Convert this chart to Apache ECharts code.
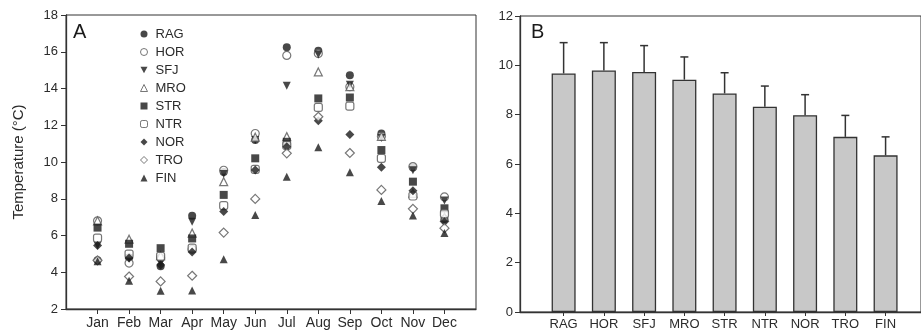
<!DOCTYPE html>
<html>
<head>
<meta charset="utf-8">
<script src="https://cdn.jsdelivr.net/npm/echarts@6/dist/echarts.min.js"></script>
<style>
  html, body { margin: 0; padding: 0; background: #fff; }
  #main { width: 921px; height: 333px; }
</style>
</head>
<body>
<div id="main"></div>
<script>
// months and stations
var months = ['Jan', 'Feb', 'Mar', 'Apr', 'May', 'Jun', 'Jul', 'Aug', 'Sep', 'Oct', 'Nov', 'Dec'];
var stations = ['RAG', 'HOR', 'SFJ', 'MRO', 'STR', 'NTR', 'NOR', 'TRO', 'FIN'];

// panel A, monthly mean temperature per station
var tempRAG = [4.65, 4.8, 4.32, 7.07, 9.45, 11.2, 16.25, 16.05, 14.72, 11.55, 9.7, 6.9];
var tempHOR = [6.8, 4.5, 4.77, 5.25, 9.55, 11.55, 15.8, 15.9, 14.1, 11.4, 9.75, 8.1];
var tempSFJ = [5.45, 4.75, 4.5, 6.75, 9.35, 11.2, 14.15, 15.85, 14.2, 11.3, 9.55, 7.9];
var tempMRO = [6.8, 5.8, 4.9, 6.13, 8.93, 11.35, 11.38, 14.9, 14.1, 11.4, 8.3, 7.0];
var tempSTR = [6.43, 5.55, 5.31, 5.84, 8.21, 10.2, 11.1, 13.46, 13.51, 10.65, 8.93, 7.48];
var tempNTR = [5.86, 4.99, 4.86, 5.31, 7.63, 9.6, 10.9, 12.97, 13.04, 10.2, 8.15, 7.18];
var tempNOR = [5.45, 4.77, 4.4, 5.1, 7.3, 9.57, 10.83, 12.24, 11.5, 9.71, 8.44, 6.75];
var tempTRO = [4.65, 3.77, 3.5, 3.81, 6.16, 7.99, 10.47, 12.46, 10.49, 8.48, 7.45, 6.4];
var tempFIN = [4.6, 3.54, 3.0, 3.01, 4.71, 7.12, 9.2, 10.8, 9.44, 7.88, 7.09, 6.13];

// panel B, annual mean and error
var meanB = [9.67, 9.79, 9.73, 9.42, 8.86, 8.32, 7.98, 7.10, 6.35];
var errB = [1.25, 1.13, 1.07, 0.92, 0.84, 0.84, 0.83, 0.87, 0.75];

var yTicksA = [2, 4, 6, 8, 10, 12, 14, 16, 18];
var yTicksB = [0, 2, 4, 6, 8, 10, 12];

var FONT = 'Liberation Sans, Arial, sans-serif';
var INK = '#1a1a1a';
var GREY = '#555';
var TXT = '#2b2b2b';
var DOWN = 'path://M0,0 L10,0 L5,9 Z';

var tempsA = [tempRAG, tempHOR, tempSFJ, tempMRO, tempSTR, tempNTR, tempNOR, tempTRO, tempFIN];
// symbol, filled?
var marks = [
    ['circle', true],
    ['circle', false],
    [DOWN, true],
    ['triangle', false],
    ['rect', true],
    ['roundRect', false],
    ['diamond', true],
    ['diamond', false],
    ['triangle', true]
];

var myChart = echarts.init(document.getElementById('main'), null, {renderer: 'canvas'});

var series = [];
stations.forEach(function (name, s) {
    var m = marks[s];
    series.push({
        name: name,
        type: 'scatter',
        xAxisIndex: 0,
        yAxisIndex: 0,
        symbol: m[0],
        symbolSize: m[0] == 'diamond' ? 9 : 8,
        itemStyle: m[1] ? {color: INK} : {color: '#fff', borderColor: GREY, borderWidth: 1.2},
        data: tempsA[s].map(function (v, i) { return [i, v]; })
    });
});

// bars
series.push({
    name: 'mean',
    type: 'bar',
    xAxisIndex: 1,
    yAxisIndex: 1,
    barWidth: 24,
    itemStyle: {color: '#c8c8c8', borderColor: '#333', borderWidth: 1.3},
    data: meanB.map(function (v, i) { return [i, v]; })
});

// error bars
series.push({
    name: 'err',
    type: 'custom',
    xAxisIndex: 1,
    yAxisIndex: 1,
    z: 5,
    data: meanB.map(function (v, i) { return [i, v, v + errB[i]]; }),
    renderItem: function (params, api) {
        var base = api.coord([api.value(0), api.value(1)]);
        var top = api.coord([api.value(0), api.value(2)]);
        var style = {stroke: '#333', lineWidth: 1.5};
        return {
            type: 'group',
            children: [
                {type: 'line', shape: {x1: base[0], y1: base[1], x2: top[0], y2: top[1]}, style: style},
                {type: 'line', shape: {x1: top[0] - 4, y1: top[1], x2: top[0] + 4, y2: top[1]}, style: style}
            ]
        };
    }
});

var option = {
    animation: false,
    backgroundColor: '#fff',
    textStyle: {fontFamily: FONT},
    graphic: [
        {type: 'text', left: 73, top: 22, style: {text: 'A', font: '20px ' + FONT, fill: INK}},
        {type: 'text', left: 531, top: 22, style: {text: 'B', font: '20px ' + FONT, fill: INK}}
    ],
    legend: {
        data: stations,
        orient: 'vertical',
        left: 135,
        top: 22,
        itemWidth: 7,
        itemHeight: 7,
        itemGap: 4,
        itemStyle: {borderWidth: 1},
        textStyle: {fontSize: 13, lineHeight: 14, color: TXT, fontFamily: FONT, padding: [0, 0, 0, 3]}
    },
    grid: [
        {left: 66, top: 15, right: 445, bottom: 24, show: true, borderColor: '#333', borderWidth: 1},
        {left: 520, top: 16, right: -6, bottom: 21, show: true, borderColor: '#333', borderWidth: 1}
    ],
    xAxis: [
        {
            gridIndex: 0,
            type: 'value',
            min: -1,
            max: 12,
            splitLine: {show: false},
            axisLine: {onZero: false, lineStyle: {color: '#333', width: 1.3}},
            axisTick: {show: true, length: 5, customValues: months.map(function (d, i) { return i; }), lineStyle: {color: '#333'}},
            axisLabel: {
                customValues: months.map(function (d, i) { return i; }),
                formatter: function (v) { return months[v] || ''; },
                fontSize: 14, color: TXT, margin: 7, fontFamily: FONT
            }
        },
        {
            gridIndex: 1,
            type: 'value',
            min: -1.084,
            max: 8.88,
            splitLine: {show: false},
            axisLine: {onZero: false, lineStyle: {color: '#333', width: 1.3}},
            axisTick: {show: true, length: 4, customValues: stations.map(function (d, i) { return i; }), lineStyle: {color: '#333'}},
            axisLabel: {
                customValues: stations.map(function (d, i) { return i; }),
                formatter: function (v) { return stations[v] || ''; },
                fontSize: 13, color: TXT, margin: 6, fontFamily: FONT
            }
        }
    ],
    yAxis: [
        {
            gridIndex: 0,
            type: 'value',
            min: 2,
            max: 18,
            interval: 2,
            name: 'Temperature (°C)',
            nameLocation: 'middle',
            nameGap: 40,
            nameTextStyle: {fontSize: 15, color: TXT, fontFamily: FONT},
            splitLine: {show: false},
            axisLine: {show: true, onZero: false, lineStyle: {color: '#333', width: 1.3}},
            axisTick: {show: true, length: 5, lineStyle: {color: '#333'}},
            axisLabel: {
                customValues: yTicksA,
                fontSize: 13, color: TXT, margin: 8, fontFamily: FONT
            }
        },
        {
            gridIndex: 1,
            type: 'value',
            min: 0,
            max: 12,
            interval: 2,
            splitLine: {show: false},
            axisLine: {show: true, onZero: false, lineStyle: {color: '#333', width: 1.3}},
            axisTick: {show: true, length: 5, lineStyle: {color: '#333'}},
            axisLabel: {
                customValues: yTicksB,
                fontSize: 13, color: TXT, margin: 7, fontFamily: FONT
            }
        }
    ],
    series: series
};

myChart.setOption(option);
</script>
</body>
</html>
